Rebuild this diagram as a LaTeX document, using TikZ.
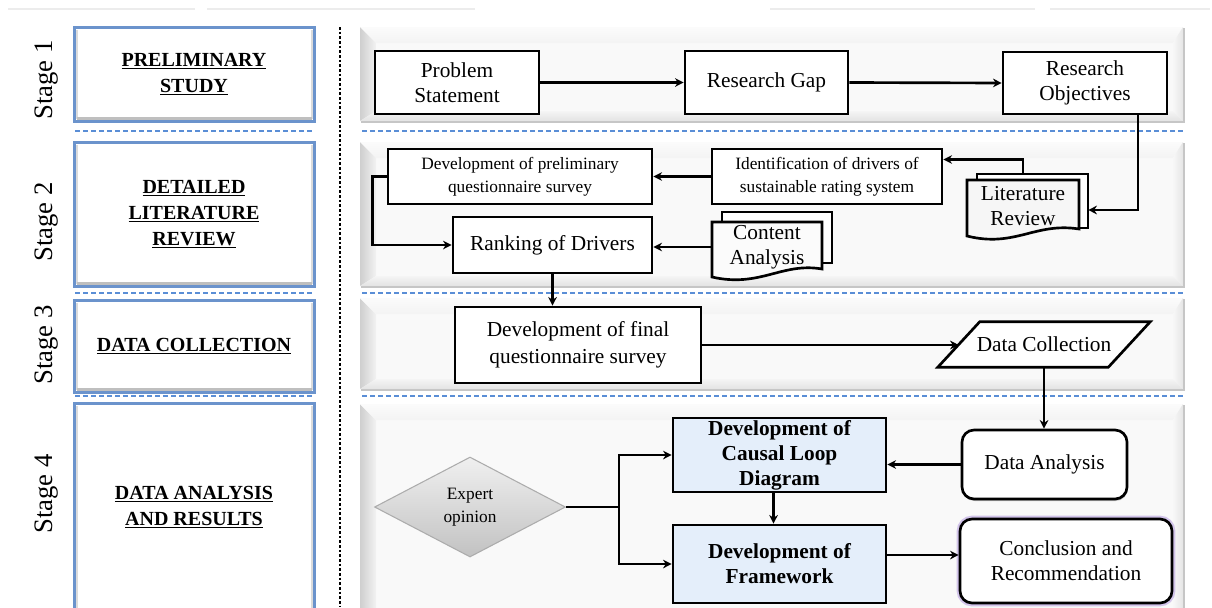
\documentclass[tikz,border=0pt]{standalone}
\usepackage{fontspec}
\setmainfont{Liberation Serif}
\usetikzlibrary{arrows.meta,calc,shapes.geometric,shadows}

\definecolor{hdrblue}{HTML}{6B93CC}
\definecolor{sepblue}{HTML}{5A8ED6}
\definecolor{cldblue}{HTML}{E4EEFA}
\definecolor{glow}{HTML}{B9A2E0}

\newcommand\txtbody{\fontsize{16}{18.75}\selectfont}
\newcommand\txtsmall{\fontsize{13}{17}\selectfont}
\newcommand\txthdr{\fontsize{15}{19.5}\selectfont\bfseries}
\newcommand\txtstage{\fontsize{20}{22}\selectfont}

% bevelled grey panel: x1 y1 x2 y2
\newcommand\bevelpanel[4]{%
  \fill[gray!5] (#1,#2) rectangle (#3,#4);
  \shade[left color=gray!38, right color=gray!10] (#1,#2) -- (#1+16,#2+16) -- (#1+16,#4-10) -- (#1,#4) -- cycle;
  \shade[top color=gray!3, bottom color=gray!9] (#1,#2) -- (#3,#2) -- (#3-10,#2+16) -- (#1+16,#2+16) -- cycle;
  \shade[top color=gray!8, bottom color=gray!22] (#1,#4) -- (#1+16,#4-10) -- (#3-10,#4-10) -- (#3,#4) -- cycle;
  \shade[left color=gray!6, right color=gray!20] (#3,#2) -- (#3-10,#2+16) -- (#3-10,#4-10) -- (#3,#4) -- cycle;
  \draw[gray!45, line width=1pt] (#1+1,#4+1) -- (#3+1,#4+1) -- (#3+1,#2+1);
}

\begin{document}
\begin{tikzpicture}[x=0.75pt,y=-0.75pt,
  % place a rectangular node by its corners x1 y1 x2 y2
  span/.style n args={4}{minimum width={(#3-#1)*0.75pt}, minimum height={(#4-#2)*0.75pt},
    at={({(#1+#3)/2},{(#2+#4)/2})}},
  box/.style={draw=black, line width=2pt, fill=white, inner sep=0pt, align=center, font=\txtbody},
  rbox/.style={box, rounded corners=9pt},
  hdr/.style={draw=hdrblue, line width=2.25pt, fill=white, inner sep=0pt, align=center, font=\txthdr},
  plain/.style={inner sep=0pt, align=center, font=\txtbody},
  stagelbl/.style={rotate=90, font=\txtstage},
  arr/.style={line width=2pt, -{Stealth[length=6.5pt,width=6.5pt]}},
  link/.style={line width=2pt},
  sep/.style={sepblue, line width=0.9pt, dash pattern=on 3.5pt off 2.5pt},
  docline/.style={draw=black, line width=2pt},
]
\useasboundingbox (0,0) rectangle (1212,607);
\clip (0,0) rectangle (1212,607);

% faint rules along the top edge
\foreach \a/\b in {8/195,207/475,770/1035,1050/1210}
  \draw[gray!15, line width=1.2pt] (\a,9) -- (\b,9);

% stage header boxes
\node[hdr, span={74}{27}{314}{121}] (h1) {\underline{PRELIMINARY}\\\underline{STUDY}};
\node[hdr, span={74}{142}{314}{286}] (h2) {\underline{DETAILED}\\\underline{LITERATURE}\\\underline{REVIEW}};
\node[hdr, span={74}{300}{314}{392}] (h3) {\underline{DATA COLLECTION}};
\node[hdr, span={74}{403}{314}{612}] (h4) {\underline{DATA ANALYSIS}\\\underline{AND RESULTS}};
\foreach \n in {h1,h2,h3,h4}{
  \draw[gray!28, line width=1.5pt] ($(\n.north west)+(4,4)$) -- ($(\n.south west)+(4,-4)$);
  \draw[gray!28, line width=1.5pt] ($(\n.north east)+(-4,4)$) -- ($(\n.south east)+(-4,-4)$);
  \draw[gray!50, line width=2pt] ($(\n.south west)+(4,-4)$) -- ($(\n.south east)+(-4,-4)$);
}

% stage labels
\node[stagelbl] (s1) at (47,80) {Stage 1};
\node[stagelbl] (s2) at (47,222) {Stage 2};
\node[stagelbl] (s3) at (47,345) {Stage 3};
\node[stagelbl] (s4) at (47,494) {Stage 4};

% separators
\foreach \y in {131,293,396}{
  \draw[sep] (75,\y) -- (313,\y);
  \draw[sep] (362,\y) -- (1185,\y);
}
\draw[black, line width=0.9pt, dash pattern=on 2pt off 1.5pt] (340,27) -- (340,607);

% stage panels
\bevelpanel{360}{27}{1183}{121}
\bevelpanel{360}{142}{1183}{286}
\bevelpanel{360}{298}{1183}{389}
\bevelpanel{360}{404}{1183}{640}

% document stacks
\draw[docline, fill=white] (977,174) rectangle (1088,228);
\draw[docline, fill=gray!7] (967,180) -- (1079,180) -- (1079,229)
  .. controls (1035,222) and (1015,248) .. (967,236) -- cycle;
\draw[docline, fill=white] (722,212) rectangle (832,263);
\draw[docline, fill=gray!3] (712,222) -- (822,222) -- (822,269)
  .. controls (782,262) and (760,288) .. (712,277) -- cycle;

% stage 1
\node[box, span={375}{51}{539}{114}] (ps) {Problem\\Statement};
\node[box, span={685}{51}{848}{114}] (rg) {Research Gap};
\node[box, span={1003}{52}{1167}{114}] (ro) {Research\\Objectives};

% stage 2
\node[box, span={388}{149}{652}{204}, font=\txtsmall] (prelim) {Development of preliminary\\questionnaire survey};
\node[box, span={712}{149}{942}{204}, font=\txtsmall] (ident) {Identification of drivers of\\sustainable rating system};
\node[box, span={453}{217}{652}{273}] (ranking) {Ranking of Drivers};
\node[plain, span={712}{222}{822}{272}] (content) {Content\\Analysis};
\node[plain, span={967}{180}{1079}{232}] (litrev) {Literature\\Review};

% stage 3
\node[box, span={455}{307}{701}{383}, font={\fontsize{16}{20}\selectfont}] (final) {Development of final\\questionnaire survey};
\node[inner sep=0pt, span={959}{322}{1129}{367}] (dc) {};
\draw[docline, fill=white] ($(dc.south west)+(-21,0)$) -- ($(dc.south east)+(-21,0)$)
  -- ($(dc.north east)+(21,0)$) -- ($(dc.north west)+(21,0)$) -- cycle;
\node[plain] (dctext) at (dc.center) {Data Collection};

% stage 4
\node[rbox, span={962}{430}{1127}{499}, drop shadow={shadow xshift=0.5pt, shadow yshift=-1.5pt, opacity=0.45}] (da) {Data Analysis};
\node[box, fill=cldblue, span={673}{418}{886}{492}, font=\txtbody\bfseries] (cld) {Development of\\Causal Loop\\Diagram};
\node[box, fill=cldblue, span={673}{525}{886}{603}, font=\txtbody\bfseries] (fw) {Development of\\Framework};
\node[diamond, draw=gray!65, line width=0.8pt, top color=gray!12, bottom color=gray!48,
  minimum width=143.25pt, minimum height=75pt, inner sep=0pt, aspect=1.9,
  align=center, font=\txtsmall] (expert) at (470,507) {Expert\\opinion};
\node[rbox, span={960}{519}{1172}{603}, preaction={draw=glow, line width=5pt, opacity=0.6, rounded corners=9pt}] (concl) {Conclusion and\\Recommendation};

% connectors
\draw[arr] (ps.east) -- (rg.west);
\draw[arr] (rg.east) -- (ro.west);
\draw[arr] ($(ro.south)+(53,0)$) |- ($(litrev.east)+(9,4)$);
\draw[arr] ($(litrev.north)+(0,-6)$) |- ($(ident.east)+(0,-17)$);
\draw[arr] (ident.west) -- (prelim.east);
\draw[arr] (prelim.west) -- ++(-14,0) |- (ranking.west);
\draw[arr] (content.west) -- (content.west -| ranking.east);
\draw[arr] (ranking.south) -- (ranking.south |- final.north);
\draw[arr] (final.east) -- (final.east -| dc.west);
\draw[arr] (dc.south) -- (dc.south |- da.north);
\draw[arr] (da.west) -- (da.west -| cld.east);
\draw[arr] ($(cld.south)+(-6,0)$) -- ($(fw.north)+(-6,0)$);
\draw[link] (expert.east) -- ++(53,0) coordinate (split);
\draw[arr] (split) |- (cld.west);
\draw[arr] (split) |- (fw.west);
\path ($(fw.east)+(0,-9)$) coordinate (fwout);
\draw[arr] (fwout) -- (fwout -| concl.west);
\end{tikzpicture}
\end{document}
